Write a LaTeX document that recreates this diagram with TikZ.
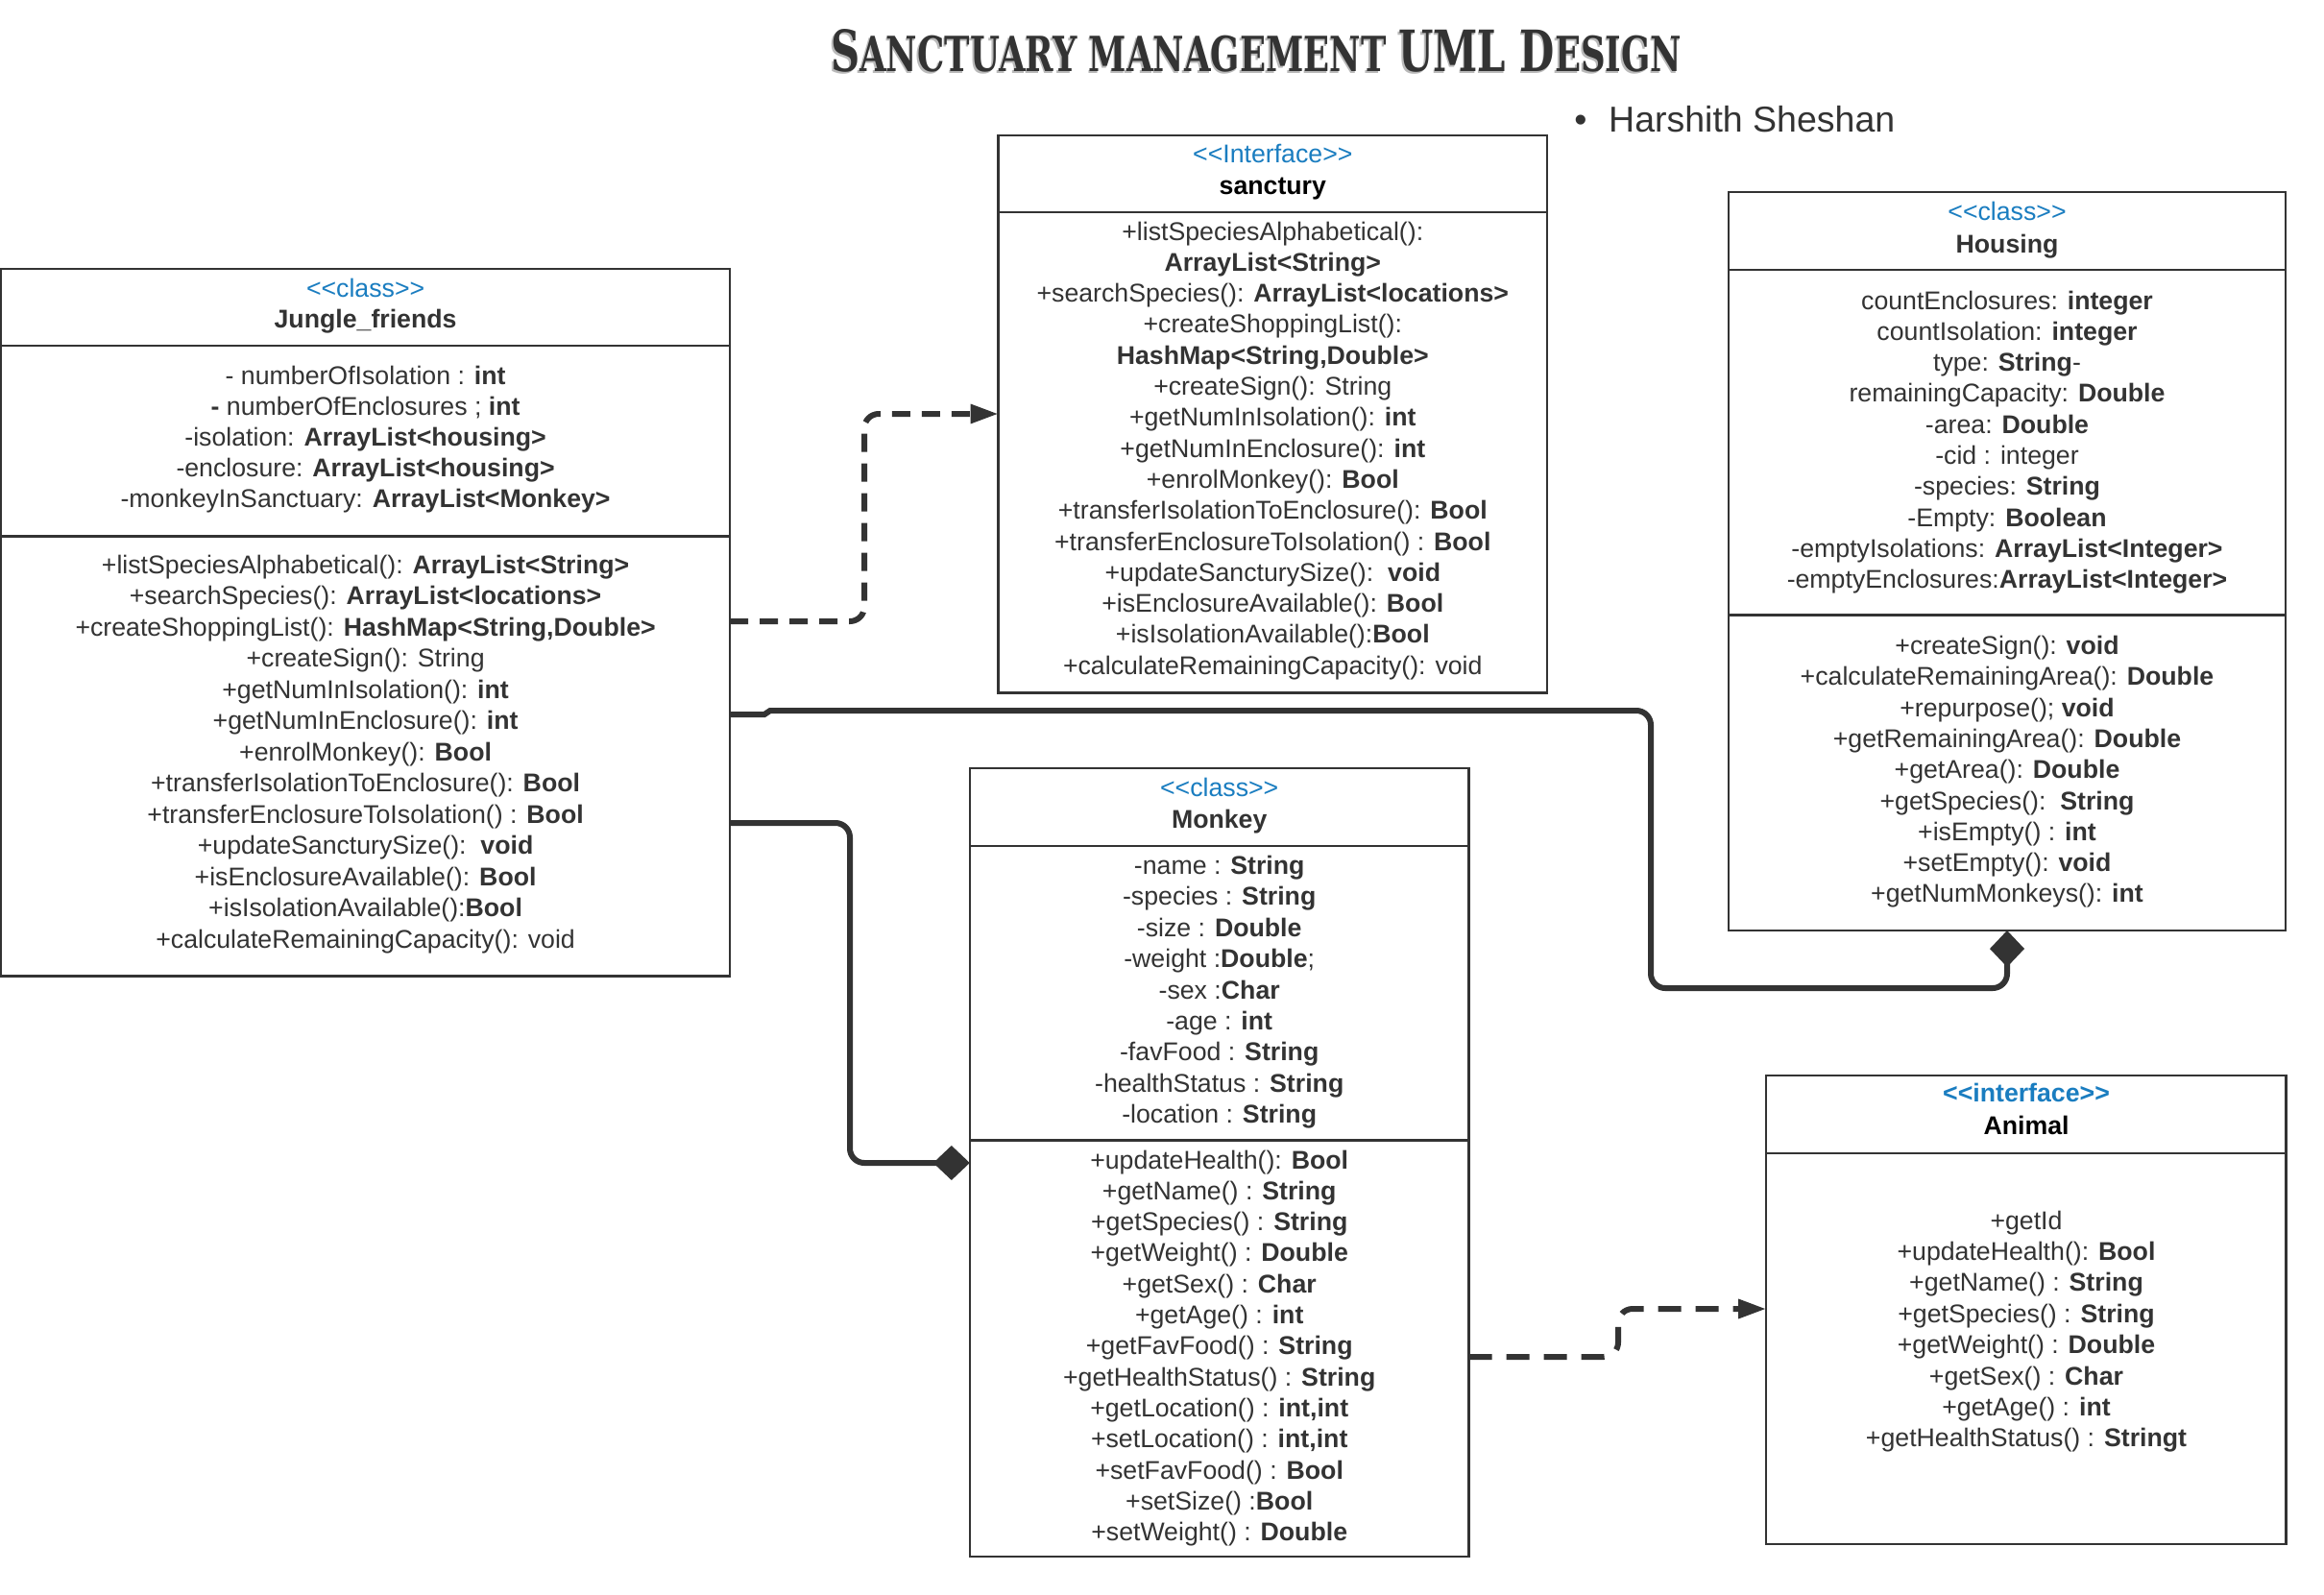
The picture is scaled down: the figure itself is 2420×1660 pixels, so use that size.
\documentclass[tikz,border=0pt]{standalone}
\usepackage{graphicx}
\usepackage{fontspec}
\setmainfont{Liberation Sans}[Ligatures=TeXOff]
\newfontfamily\titlefont{DejaVu Serif}[Ligatures=TeXOff]
\usetikzlibrary{arrows.meta}
\definecolor{ink}{HTML}{333333}
\definecolor{stereo}{HTML}{1A7DC0}
\newcommand\tbig[1]{{\fontsize{40}{40}\selectfont #1}}
\newcommand\tsmall[1]{{\fontsize{34}{34}\selectfont #1}}
\newcommand\titletext{\titlefont\bfseries\tbig{S}\tsmall{ANCTUARY MANAGEMENT }\tbig{UML D}\tsmall{ESIGN}}
\tikzset{
  box/.style={draw=ink, line width=2.4pt, inner sep=0pt, outer sep=0pt, anchor=north west, fill=white},
  divider/.style={draw=ink, line width=2.4pt},
  txt/.style={inner sep=0pt, outer sep=0pt, anchor=base, text=ink, font=\fontsize{26.7}{32}\selectfont},
  ster/.style={txt, text=stereo},
  cname/.style={txt, font=\fontsize{26.7}{32}\selectfont\bfseries},
  conn/.style={draw=ink, line width=6pt, rounded corners=15pt},
  realize/.style={conn, dash pattern=on 19pt off 12pt, -{Triangle[length=29pt,width=19pt]}},
  compose/.style={conn, -{Diamond[length=38pt,width=36pt]}},
}
\begin{document}
\begin{tikzpicture}[x=1pt,y=-1pt]
\useasboundingbox[fill=white] (0,0) rectangle (2420,1660);

% title and author
\node[inner sep=0pt, anchor=south west, text=gray!55] (titleshadow) at (863.5,77.5) {\resizebox{886pt}{44pt}{\titletext}};
\node[inner sep=0pt, anchor=south west, text=ink] (title) at (865,76) {\resizebox{886pt}{44pt}{\titletext}};
\node[inner sep=0pt, anchor=base, text=ink, font=\fontsize{37.5}{40}\selectfont] (bullet) at (1646,137.3) {•};
\node[inner sep=0pt, anchor=base west, text=ink, font=\fontsize{37.5}{40}\selectfont] (author) at (1675,137.3) {Harshith Sheshan};

% boxes
\node[box, minimum width=758.8pt, minimum height=736.5pt] (jf) at (1.2,280) {};
\node[box, minimum width=571.4pt, minimum height=580.6pt] (sanc) at (1039.6,140.7) {};
\node[box, minimum width=580pt, minimum height=769pt] (hous) at (1800,200) {};
\node[box, minimum width=519.8pt, minimum height=821pt] (mk) at (1009.8,800) {};
\node[box, minimum width=541.3pt, minimum height=487.7pt] (an) at (1839.2,1120) {};

% dividers
\draw[divider] (jf.west |- 0,360) -- (jf.east |- 0,360);
\draw[divider] (jf.west |- 0,558.3) -- (jf.east |- 0,558.3);
\draw[divider] (sanc.west |- 0,221) -- (sanc.east |- 0,221);
\draw[divider] (hous.west |- 0,281) -- (hous.east |- 0,281);
\draw[divider] (hous.west |- 0,640.5) -- (hous.east |- 0,640.5);
\draw[divider] (mk.west |- 0,881) -- (mk.east |- 0,881);
\draw[divider] (mk.west |- 0,1187.3) -- (mk.east |- 0,1187.3);
\draw[divider] (an.west |- 0,1200.7) -- (an.east |- 0,1200.7);

% headers
\node[ster] (jfst) at (380.6,309) {<<class>>};
\node[cname] (jfname) at (380.6,341.5) {Jungle\_friends};
\node[ster] (sancst) at (1325.3,169.4) {<<Interface>>};
\node[cname, text=black] (sancname) at (1325.3,202) {sanctury};
\node[ster] (housst) at (2090,229.8) {<<class>>};
\node[cname] (housname) at (2090,263) {Housing};
\node[ster] (mkst) at (1269.7,829.6) {<<class>>};
\node[cname] (mkname) at (1269.7,862) {Monkey};
\node[ster, font=\fontsize{26.7}{32}\selectfont\bfseries] (anst) at (2110,1147.3) {<<interface>>};
\node[cname, text=black] (anname) at (2110,1181.7) {Animal};

% Jungle_friends attributes
\foreach \t [count=\i from 0] in {
  {- numberOfIsolation : \textbf{int}},
  {\textbf{-} numberOfEnclosures ; \textbf{int}},
  {-isolation: \textbf{ArrayList<housing>}},
  {-enclosure: \textbf{ArrayList<housing>}},
  {-monkeyInSanctuary: \textbf{ArrayList<Monkey>}}}
  \node[txt] (jfa\i) at (380.6,400+32.2*\i) {\t};

% Jungle_friends methods
\foreach \t [count=\i from 0] in {
  {+listSpeciesAlphabetical(): \textbf{ArrayList<String>}},
  {+searchSpecies(): \textbf{ArrayList<locations>}},
  {+createShoppingList(): \textbf{HashMap<String,Double>}},
  {+createSign(): String},
  {+getNumInIsolation(): \textbf{int}},
  {+getNumInEnclosure(): \textbf{int}},
  {+enrolMonkey(): \textbf{Bool}},
  {+transferIsolationToEnclosure(): \textbf{Bool}},
  {+transferEnclosureToIsolation() : \textbf{Bool}},
  {+updateSancturySize():\ \ \textbf{void}},
  {+isEnclosureAvailable(): \textbf{Bool}},
  {+isIsolationAvailable():\textbf{Bool}},
  {+calculateRemainingCapacity(): void}}
  \node[txt] (jfm\i) at (380.6,597+32.5*\i) {\t};

% sanctury methods
\foreach \t [count=\i from 0] in {
  {+listSpeciesAlphabetical():},
  {\textbf{ArrayList<String>}},
  {+searchSpecies(): \textbf{ArrayList<locations>}},
  {+createShoppingList():},
  {\textbf{HashMap<String,Double>}},
  {+createSign(): String},
  {+getNumInIsolation(): \textbf{int}},
  {+getNumInEnclosure(): \textbf{int}},
  {+enrolMonkey(): \textbf{Bool}},
  {+transferIsolationToEnclosure(): \textbf{Bool}},
  {+transferEnclosureToIsolation() : \textbf{Bool}},
  {+updateSancturySize():\ \ \textbf{void}},
  {+isEnclosureAvailable(): \textbf{Bool}},
  {+isIsolationAvailable():\textbf{Bool}},
  {+calculateRemainingCapacity(): void}}
  \node[txt] (sancm\i) at (1325.3,250+32.3*\i) {\t};

% Housing attributes
\foreach \t [count=\i from 0] in {
  {countEnclosures: \textbf{integer}},
  {countIsolation: \textbf{integer}},
  {type: \textbf{String}-},
  {remainingCapacity: \textbf{Double}},
  {-area: \textbf{Double}},
  {-cid : integer},
  {-species: \textbf{String}},
  {-Empty: \textbf{Boolean}},
  {-emptyIsolations: \textbf{ArrayList<Integer>}},
  {-emptyEnclosures:\textbf{ArrayList<Integer>}}}
  \node[txt] (housa\i) at (2090,322+32.3*\i) {\t};

% Housing methods
\foreach \t [count=\i from 0] in {
  {+createSign(): \textbf{void}},
  {+calculateRemainingArea(): \textbf{Double}},
  {+repurpose(); \textbf{void}},
  {+getRemainingArea(): \textbf{Double}},
  {+getArea(): \textbf{Double}},
  {+getSpecies():\ \ \textbf{String}},
  {+isEmpty() : \textbf{int}},
  {+setEmpty(): \textbf{void}},
  {+getNumMonkeys(): \textbf{int}}}
  \node[txt] (housm\i) at (2090,681.5+32.3*\i) {\t};

% Monkey attributes
\foreach \t [count=\i from 0] in {
  {-name : \textbf{String}},
  {-species : \textbf{String}},
  {-size : \textbf{Double}},
  {-weight :\textbf{Double};},
  {-sex :\textbf{Char}},
  {-age : \textbf{int}},
  {-favFood : \textbf{String}},
  {-healthStatus : \textbf{String}},
  {-location : \textbf{String}}}
  \node[txt] (mka\i) at (1269.7,910.5+32.4*\i) {\t};

% Monkey methods
\foreach \t [count=\i from 0] in {
  {+updateHealth(): \textbf{Bool}},
  {+getName() : \textbf{String}},
  {+getSpecies() : \textbf{String}},
  {+getWeight() : \textbf{Double}},
  {+getSex() : \textbf{Char}},
  {+getAge() : \textbf{int}},
  {+getFavFood() : \textbf{String}},
  {+getHealthStatus() : \textbf{String}},
  {+getLocation() : \textbf{int,int}},
  {+setLocation() : \textbf{int,int}},
  {+setFavFood() : \textbf{Bool}},
  {+setSize() :\textbf{Bool}},
  {+setWeight() : \textbf{Double}}}
  \node[txt] (mkm\i) at (1269.7,1217+32.3*\i) {\t};

% Animal methods
\foreach \t [count=\i from 0] in {
  {+getId},
  {+updateHealth(): \textbf{Bool}},
  {+getName() : \textbf{String}},
  {+getSpecies() : \textbf{String}},
  {+getWeight() : \textbf{Double}},
  {+getSex() : \textbf{Char}},
  {+getAge() : \textbf{int}},
  {+getHealthStatus() : \textbf{Stringt}}}
  \node[txt] (anm\i) at (2110,1280+32.4*\i) {\t};

% connectors
\draw[realize] (jf.east |- 0,647) -- (900,647) -- (900,431) -- (sanc.west |- 0,431);
\draw[compose] (jf.east |- 0,744) [sharp corners] -- (796,744) -- (802,740) [rounded corners=15pt] -- (1719,740) -- (1719,1029) -- (2090,1029) -- (hous.south);
\draw[compose] (jf.east |- 0,857) -- (885,857) -- (885,1211) -- (mk.west |- 0,1211);
\draw[realize, dash pattern=on 24pt off 15pt] (mk.east |- 0,1413) -- (1685,1413) -- (1685,1363) -- (an.west |- 0,1363);
\end{tikzpicture}
\end{document}
